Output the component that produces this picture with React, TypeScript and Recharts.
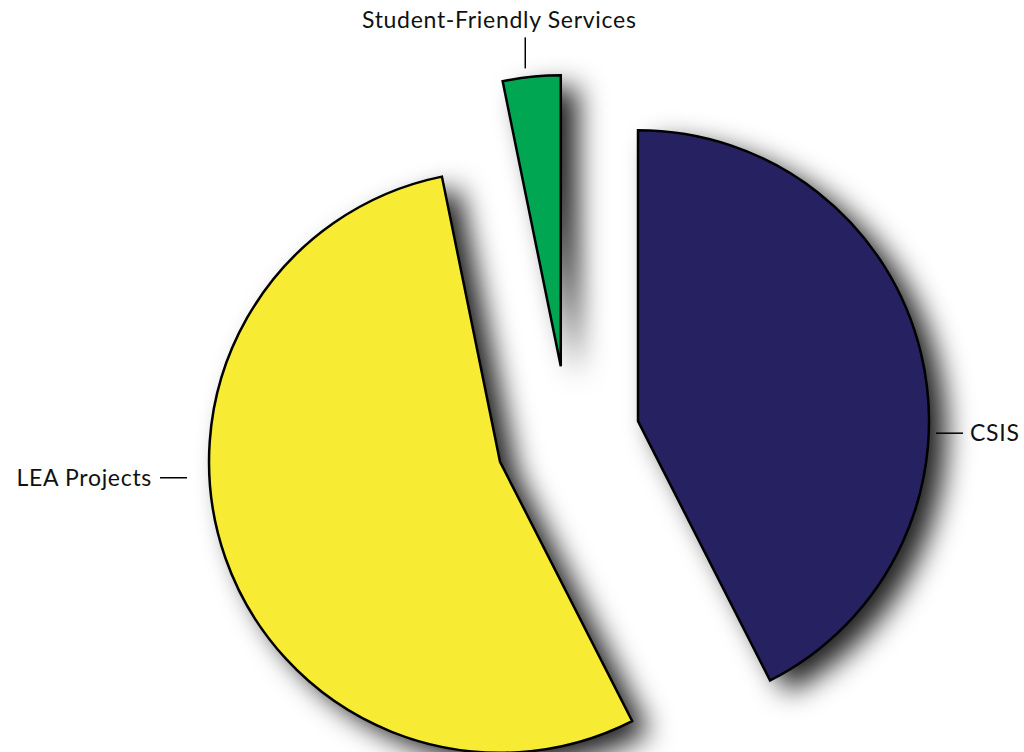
import React from "react";
import { PieChart, Pie, Cell, Sector } from "recharts";

const NAMES = ["CSIS", "LEA Projects", "Student-Friendly Services"];
const VALUES = [42.5, 54.3, 3.2];
const COLORS = ["#262262", "#F7EC33", "#00A651"];

const data = NAMES.map((name, i) => ({ name, value: VALUES[i] }));

const RAD = Math.PI / 180;
const EXPLODE = 72;
const FONT = "Lato, 'Open Sans', sans-serif";

function offset(midAngle: number) {
  return {
    dx: EXPLODE * Math.cos(midAngle * RAD),
    dy: -EXPLODE * Math.sin(midAngle * RAD),
  };
}

function ExplodedSlice(props: any) {
  const { cx, cy, midAngle } = props;
  const { dx, dy } = offset(midAngle);
  const geom = {
    cx: cx + dx,
    cy: cy + dy,
    innerRadius: 0,
    outerRadius: props.outerRadius,
    startAngle: props.startAngle,
    endAngle: props.endAngle,
  };
  return (
    <g>
      {/* soft drop shadow */}
      <g transform="translate(17,12)" filter="url(#sliceBlur)">
        <Sector {...geom} fill="#000" fillOpacity={0.88} stroke="none" />
      </g>
      <Sector {...geom} fill={props.fill} stroke="#000" strokeWidth={2.5} strokeLinejoin="miter" />
    </g>
  );
}

function SliceLabel(props: any) {
  const { cx, cy, midAngle, outerRadius, index } = props;
  const { dx, dy } = offset(midAngle);
  const ex = cx + dx;
  const ey = cy + dy;
  const R = outerRadius;
  const common = { fontFamily: FONT, fontSize: 23, letterSpacing: 0.7, fill: "#111" };
  if (index === 0) {
    const y = ey + 12;
    return (
      <g>
        <line x1={ex + R + 7} y1={y} x2={ex + R + 34} y2={y} stroke="#000" strokeWidth={1.5} />
        <text x={ex + R + 41} y={y + 8} textAnchor="start" {...common}>
          {NAMES[index]}
        </text>
      </g>
    );
  }
  if (index === 1) {
    const y = ey + 16;
    return (
      <g>
        <line x1={ex - R - 49} y1={y} x2={ex - R - 22} y2={y} stroke="#000" strokeWidth={1.5} />
        <text x={ex - R - 57} y={y + 8} textAnchor="end" {...common}>
          {NAMES[index]}
        </text>
      </g>
    );
  }
  const x = ex - 35.5;
  return (
    <g>
      <line x1={x} y1={ey - 329} x2={x} y2={ey - 298} stroke="#000" strokeWidth={1.5} />
      <text x={x - 26} y={ey - 338} textAnchor="middle" {...common}>
        {NAMES[index]}
      </text>
    </g>
  );
}

export default function App() {
  return (
    <div style={{ position: "absolute", left: 0, top: 0, width: 1024, height: 752, background: "#fff" }}>
      <style>{"body{margin:0;background:#fff}"}</style>
      <svg width={0} height={0} style={{ position: "absolute" }}>
        <defs>
          <filter id="sliceBlur" filterUnits="userSpaceOnUse" x={-200} y={-200} width={1500} height={1200}>
            <feGaussianBlur stdDeviation={14} />
          </filter>
        </defs>
      </svg>
      <PieChart width={1024} height={752}>
        <Pie
          data={data}
          dataKey="value"
          nameKey="name"
          cx={563}
          cy={433}
          outerRadius={291}
          startAngle={90}
          endAngle={-270}
          isAnimationActive={false}
          labelLine={false}
          label={SliceLabel}
          activeShape={ExplodedSlice}
          inactiveShape={ExplodedSlice}
          shape={ExplodedSlice}
        >
          {data.map((entry, i) => (
            <Cell key={entry.name} fill={COLORS[i]} />
          ))}
        </Pie>
      </PieChart>
    </div>
  );
}
